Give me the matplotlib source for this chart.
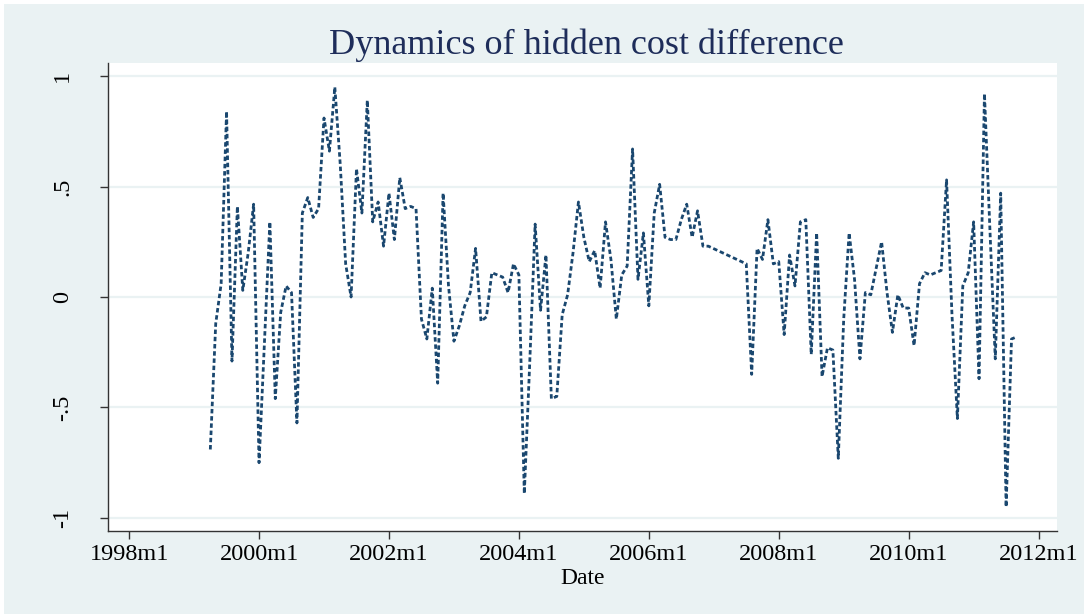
import numpy as np
import pandas as pd
import matplotlib
matplotlib.use("Agg")
import matplotlib.pyplot as plt
from matplotlib.patches import Rectangle

# Monatsdaten ab 1999m4 (NaN = fehlender Monat, Linie wird durchgezogen)
start_month = "1999-04"
hidden_cost_diff = [
    -0.69, -0.12, 0.06, 0.84, -0.29, 0.41, 0.03, 0.20, 0.42,             # 1999
    -0.75, -0.20, 0.34, -0.46, -0.07, 0.05, 0.02, -0.57, 0.38, 0.45, 0.36, 0.40,  # 2000
    0.81, 0.66, 0.95, 0.60, 0.15, 0.00, 0.58, 0.38, 0.89, 0.34, 0.43, 0.23,       # 2001
    0.47, 0.26, 0.54, 0.40, 0.41, 0.40, -0.10, -0.19, 0.04, -0.39, 0.47, 0.05,    # 2002
    -0.20, -0.13, -0.04, 0.02, 0.22, -0.11, -0.09, 0.11, 0.10, 0.09, 0.02, 0.15,  # 2003
    0.10, -0.89, -0.30, 0.33, -0.06, 0.19, -0.46, -0.45, -0.08, 0.01, 0.20, 0.43, # 2004
    0.27, 0.16, 0.21, 0.04, 0.34, 0.17, -0.10, 0.10, 0.14, 0.67, 0.08, 0.29,      # 2005
    -0.04, 0.38, 0.51, 0.27, 0.26, 0.26, 0.35, 0.42, 0.27, 0.39, 0.23, 0.23,      # 2006
    np.nan, np.nan, np.nan, np.nan, np.nan, np.nan, 0.15, -0.35, 0.22, 0.17, 0.35, 0.15,  # 2007
    0.16, -0.17, 0.19, 0.05, 0.34, 0.35, -0.26, 0.29, -0.36, -0.23, -0.24, -0.73, # 2008
    -0.10, 0.29, 0.08, -0.28, 0.02, 0.01, 0.13, 0.25, 0.02, -0.16, 0.01, -0.05,   # 2009
    -0.05, -0.22, 0.06, 0.11, 0.10, 0.11, 0.12, 0.53, -0.08, -0.55, 0.05, 0.11,   # 2010
    0.34, -0.37, 0.92, 0.31, -0.28, 0.47, -0.95, -0.19, -0.18,                    # 2011
]

x_tick_labels = ["1998m1", "2000m1", "2002m1", "2004m1",
                 "2006m1", "2008m1", "2010m1", "2012m1"]
y_ticks = [-1, -0.5, 0, 0.5, 1]
y_tick_labels = ["-1", "-.5", "0", ".5", "1"]

bg = "#eaf2f3"
navy = "#1a476f"

# DataFrame mit Stata-Monatsindex (0 = 1998m1)
periods = pd.period_range(start_month, periods=len(hidden_cost_diff), freq="M")
df = pd.DataFrame({"period": periods, "value": hidden_cost_diff})
df["tm"] = (df["period"].dt.year - 1998) * 12 + df["period"].dt.month - 1
df = df.dropna()

tick_pos = [(int(s[:4]) - 1998) * 12 + int(s.split("m")[1]) - 1 for s in x_tick_labels]

plt.rcParams["font.family"] = ["Liberation Serif", "DejaVu Serif"]

fig = plt.figure(figsize=(10.84, 6.14), dpi=100, facecolor="white")
fig.patches.append(Rectangle((4 / 1084, 0), 1, 1 - 4 / 614, transform=fig.transFigure,
                             facecolor=bg, edgecolor="none", zorder=-1))

ax = fig.add_axes([108 / 1084, 1 - 531 / 614, 949 / 1084, 468 / 614])
ax.set_facecolor("white")

line, = ax.plot(df["tm"], df["value"], color=navy, linewidth=2.0)
line.set_dashes((1.6, 1.0))

ax.set_xlim(-3.9, 171.4)
ax.set_ylim(-1.059, 1.059)

ax.set_xticks(tick_pos)
ax.set_xticklabels(x_tick_labels, fontsize=17.5)
ax.set_yticks(y_ticks)
ax.set_yticklabels(y_tick_labels, fontsize=17.5, rotation=90, va="center")

ax.tick_params(axis="x", length=6, width=1, color="#333333", pad=3)
ax.tick_params(axis="y", length=6, width=1, color="#333333", pad=19)

ax.grid(axis="y", color=bg, linewidth=1.6)
ax.set_axisbelow(True)

for side in ["top", "right"]:
    ax.spines[side].set_visible(False)
for side in ["left", "bottom"]:
    ax.spines[side].set_color("#333333")
    ax.spines[side].set_linewidth(1)

ax.set_xlabel("Date", fontsize=17, va="center")
ax.xaxis.set_label_coords((583 - 108) / 949, (531 - 578) / 468)

fig.text(586 / 1084, 1 - 45 / 614, "Dynamics of hidden cost difference",
         fontsize=26, color="#1e2d5a", ha="center", va="center")

fig.savefig("out.png", dpi=100, facecolor=fig.get_facecolor())
